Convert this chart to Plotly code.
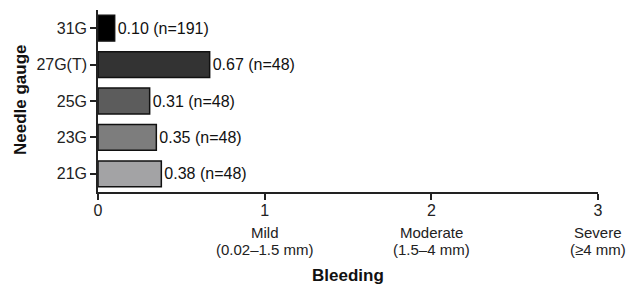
import plotly.graph_objects as go

categories = ["31G", "27G(T)", "25G", "23G", "21G"]
values = [0.10, 0.67, 0.31, 0.35, 0.38]
n_values = [191, 48, 48, 48, 48]
colors = ["#000000", "#333333", "#5c5c5c", "#7d7d7d", "#a3a3a5"]
x_ticks = [0, 1, 2, 3]
x_tick_labels = ["0", "1", "2", "3"]
severity_pos = [1, 2, 3]
severity_names = ["Mild", "Moderate", "Severe"]
severity_ranges = ["(0.02–1.5 mm)", "(1.5–4 mm)", "(≥4 mm)"]

font = "Liberation Sans, Arial, sans-serif"
PLOT_TOP, PLOT_BOTTOM, PLOT_LEFT, PLOT_RIGHT = 10, 192, 98, 598

def py(pix):
    return (PLOT_BOTTOM - pix) / (PLOT_BOTTOM - PLOT_TOP)

def px(pix):
    return (pix - PLOT_LEFT) / (PLOT_RIGHT - PLOT_LEFT)

fig = go.Figure()
fig.add_trace(go.Bar(
    y=categories, x=values, orientation="h",
    marker=dict(color=colors, line=dict(color="#111111", width=1.5)),
    width=0.71,
    text=[f"{v:.2f} (n={n})" for v, n in zip(values, n_values)],
    textposition="outside", cliponaxis=False,
    textfont=dict(family=font, size=16, color="#111111"),
    showlegend=False,
))

for p, name, rng in zip(severity_pos, severity_names, severity_ranges):
    fig.add_annotation(x=p, y=py(232), xref="x", yref="paper", text=name,
                       showarrow=False, yanchor="middle",
                       font=dict(family=font, size=15, color="#222222"))
    fig.add_annotation(x=p, y=py(249), xref="x", yref="paper", text=rng,
                       showarrow=False, yanchor="middle",
                       font=dict(family=font, size=15, color="#222222"))

fig.add_annotation(x=0.5, y=py(275), xref="paper", yref="paper", text="<b>Bleeding</b>",
                   showarrow=False, yanchor="middle", xanchor="center",
                   font=dict(family=font, size=17, color="#111111"))
fig.add_annotation(x=px(20), y=py(100), xref="paper", yref="paper", text="<b>Needle gauge</b>",
                   showarrow=False, yanchor="middle", xanchor="center", textangle=-90,
                   font=dict(family=font, size=17, color="#111111"))

fig.update_layout(
    width=627, height=289,
    margin=dict(l=PLOT_LEFT, r=627 - PLOT_RIGHT, t=PLOT_TOP, b=289 - PLOT_BOTTOM),
    plot_bgcolor="white", paper_bgcolor="white",
    font=dict(family=font, size=16, color="#222222"),
    xaxis=dict(range=[0, 3], tickvals=x_ticks, ticktext=x_tick_labels, automargin=False,
               showgrid=False, zeroline=False, showline=True, linecolor="#222222",
               linewidth=1.5, ticks="outside", ticklen=6, tickwidth=1.5, tickcolor="#222222",
               ticklabelstandoff=-3,
               tickfont=dict(family=font, size=16, color="#222222")),
    yaxis=dict(categoryorder="array", categoryarray=categories[::-1],
               range=[-0.5, 4.5], automargin=False,
               showgrid=False, zeroline=False, showline=True, linecolor="#222222",
               linewidth=1.5, ticks="outside", ticklen=6, tickwidth=1.5, tickcolor="#222222",
               tickfont=dict(family=font, size=16, color="#222222")),
)

fig.write_html("out.html", config={"displayModeBar": False},
               post_script="document.body.style.margin='0';document.body.style.overflow='hidden';")
